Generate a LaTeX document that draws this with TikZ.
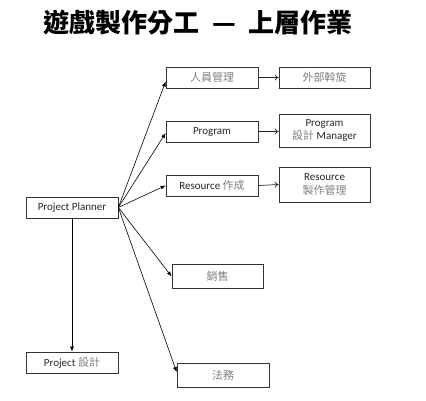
\documentclass[tikz,border=0pt]{standalone}
\usepackage{fontspec}
\setmainfont{Carlito}
\newfontfamily\cjk{Noto Sans CJK TC}
\usetikzlibrary{arrows.meta,calc}
\definecolor{cjkgray}{HTML}{7F7F7F}
\definecolor{txt}{HTML}{262626}
\newcommand\zh[1]{{\cjk\color{cjkgray}#1}}
\begin{document}
\begin{tikzpicture}[x=1pt,y=-1pt,
  box/.style={draw=black!80, line width=0.7pt, minimum width=92pt, minimum height=21pt,
    inner sep=0pt, align=center, font=\fontsize{11}{13.5}\selectfont, text=txt},
  link/.style={draw=black, line width=0.6pt, -{Latex[length=5pt,width=4pt]}},
  side/.style={draw=black!85, line width=0.7pt, -{To[length=4pt,width=6pt]}}]
\useasboundingbox (0,0) rectangle (426,400);
\node[font={\cjk\bfseries\fontsize{26}{26}\selectfont}, text=black] (title) at (198,23)
  {遊戲製作分工\hspace{0.5em}—\hspace{0.5em}上層作業};
\node[box] (hr) at (212,77.5) {\zh{人員管理}};
\node[box, minimum width=91pt] (ext) at (324.5,77.5) {\zh{外部斡旋}};
\node[box] (prog) at (212,131.5) {Program};
\node[box, minimum width=91pt, minimum height=33pt] (progm) at (324.5,130.5) {Program\\\zh{設計} Manager};
\node[box] (res) at (212,185.5) {Resource \zh{作成}};
\node[box, minimum width=91pt, minimum height=35pt] (resm) at (324.5,184.5) {Resource\\\zh{製作管理}};
\node[box] (pp) at (72,207.5) {Project Planner};
\node[box, minimum width=91pt, minimum height=24pt] (sales) at (217.5,276) {\zh{銷售}};
\node[box, minimum height=24pt] (legal) at (223,375) {\zh{法務}};
\node[box] (pd) at (72,362.5) {Project \zh{設計}};
\draw[link] (pp.east) -- ($(hr.west)+(0,4)$);
\draw[link] (pp.east) -- ($(prog.west)+(0,1.5)$);
\draw[link] (pp.east) -- (res.west);
\draw[link] (pp.east) -- ($(sales.west)+(0,0.5)$);
\draw[link] (pp.east) -- ($(legal.west)+(0,-3)$);
\draw[link] (pp.south) -- (pd.north);
\draw[side] (hr.east) -- (ext.west);
\draw[side] (prog.east) -- (progm.west|-prog.east);
\draw[side] (res.east) -- (resm.west);
\end{tikzpicture}
\end{document}
